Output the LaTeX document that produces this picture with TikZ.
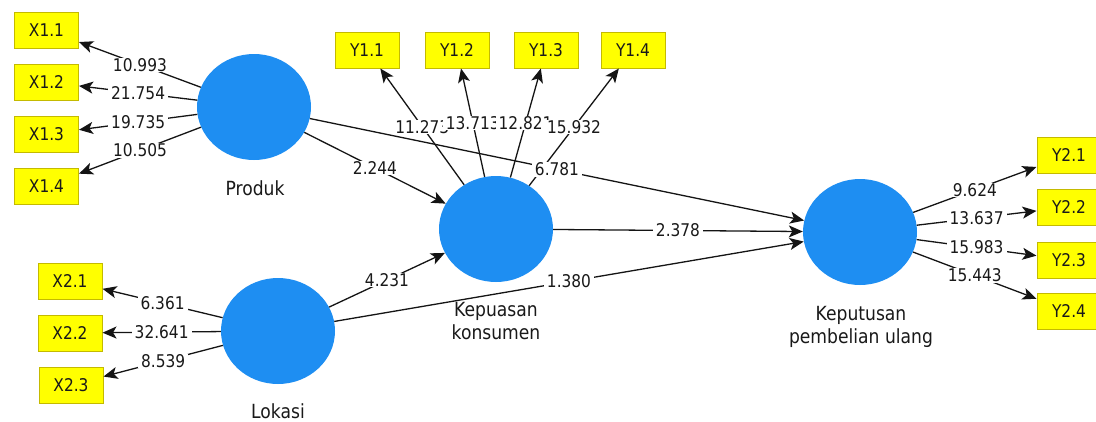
\documentclass[tikz,border=0pt]{standalone}
\usepackage{fontspec}
\setmainfont{DejaVu Sans}[FakeStretch=0.88]
\usetikzlibrary{shapes.geometric,arrows.meta}

\definecolor{cblue}{RGB}{30,142,242}
\definecolor{ybox}{RGB}{255,255,0}
\definecolor{yedge}{RGB}{196,186,0}
\definecolor{tdark}{RGB}{25,25,25}
\definecolor{ldark}{RGB}{20,20,20}

\tikzset{
  construct/.style={ellipse, fill=cblue, minimum width=114pt, minimum height=106pt, inner sep=0pt},
  indicator/.style={rectangle, fill=ybox, draw=yedge, line width=1pt,
    minimum width=64pt, minimum height=36pt, inner sep=0pt,
    font=\fontsize{17.5}{20}\selectfont, text=tdark},
  cname/.style={font=\fontsize{19.5}{23}\selectfont, text=tdark, align=center},
  coef/.style={pos=0.5, fill=white, inner xsep=3pt, inner ysep=0.5pt,
    font=\fontsize{17.5}{20}\selectfont, text=tdark},
  link/.style={draw=ldark, line width=1.3pt,
    -{Stealth[length=14pt,width=12pt,inset=3.5pt]}},
}

\begin{document}
\begin{tikzpicture}[x=1pt,y=-1pt]
\useasboundingbox (0,0) rectangle (1096,421);
\fill[white] (0,0) rectangle (1096,421);

% latent variables
\node[construct] (P) at (254,107) {};
\node[construct] (L) at (278,331) {};
\node[construct] (K) at (496,229) {};
\node[construct] (D) at (860,232) {};

\node[cname] (Pl) at (255,188) {Produk};
\node[cname] (Ll) at (278,411) {Lokasi};
\node[cname] (Kl) at (496,321) {Kepuasan\\konsumen};
\node[cname] (Dl) at (861,327) {Keputusan\\pembelian ulang};

% indicators
\node[indicator] (X11) at (46.5,30) {X1.1};
\node[indicator] (X12) at (46.5,82) {X1.2};
\node[indicator] (X13) at (46.5,134) {X1.3};
\node[indicator] (X14) at (46.5,186) {X1.4};

\node[indicator] (X21) at (70,281) {X2.1};
\node[indicator] (X22) at (70,333) {X2.2};
\node[indicator] (X23) at (71,385) {X2.3};

\node[indicator] (Y11) at (367,50) {Y1.1};
\node[indicator] (Y12) at (457,50) {Y1.2};
\node[indicator] (Y13) at (546,50) {Y1.3};
\node[indicator] (Y14) at (633,50) {Y1.4};

\node[indicator] (Y21) at (1069,155) {Y2.1};
\node[indicator] (Y22) at (1069,207) {Y2.2};
\node[indicator] (Y23) at (1069,260) {Y2.3};
\node[indicator] (Y24) at (1069,311) {Y2.4};

% outer loadings
\draw[link] (P) -- node[coef]{10.993} (X11);
\draw[link] (P) -- node[coef]{21.754} (X12);
\draw[link] (P) -- node[coef]{19.735} (X13);
\draw[link] (P) -- node[coef]{10.505} (X14);

\draw[link] (L) -- node[coef]{6.361} (X21);
\draw[link] (L) -- node[coef]{32.641} (X22);
\draw[link] (L) -- node[coef]{8.539} (X23);

\draw[link] (D) -- node[coef]{9.624} (Y21);
\draw[link] (D) -- node[coef]{13.637} (Y22);
\draw[link] (D) -- node[coef]{15.983} (Y23);
\draw[link] (D) -- node[coef]{15.443} (Y24);

% loadings of the mediator, later labels overlap earlier ones
\draw[link] (K) -- node[coef]{11.273} (Y11);
\draw[link] (K) -- node[coef]{13.713} (Y12);
\draw[link] (K) -- node[coef]{12.821} (Y13);
\draw[link] (K) -- node[coef]{15.932} (Y14);

% inner model
\draw[link] (P) -- node[coef]{2.244} (K);
\draw[link] (L) -- node[coef]{4.231} (K);
\draw[link] (K) -- node[coef]{2.378} (D);
\draw[link] (L) -- node[coef]{1.380} (D);
\draw[link] (P) -- node[coef]{6.781} (D);
\end{tikzpicture}
\end{document}
